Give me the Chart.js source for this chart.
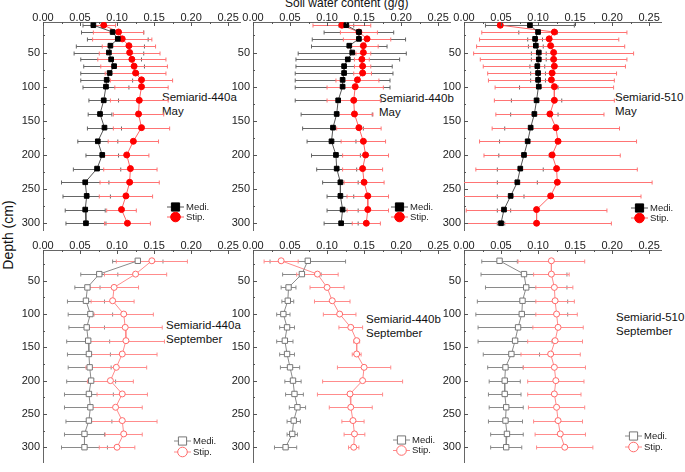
<!DOCTYPE html>
<html>
<head>
<meta charset="utf-8">
<script src="https://cdn.jsdelivr.net/npm/chart.js@4.4.0/dist/chart.umd.min.js"></script>
<style>
  body { margin: 0; width: 685px; height: 472px; background: #fff; position: relative; overflow: hidden;
         font-family: "Liberation Sans", Arial, sans-serif; }
  canvas { position: absolute; }
  .t { position: absolute; color: #111; white-space: nowrap; font-size: 11.5px; line-height: 14px; }
</style>
</head>
<body>
<div class="t" style="left:285px; top:-4px; font-size:12px;">Soil water content (g/g)</div>
<div class="t" style="left:-29px; top:228px; font-size:14px; transform:rotate(-90deg); width:74px; text-align:center;">Depth (cm)</div>
<div class="t" style="left:162px; top:90px;">Semiarid-440a<br>May</div>
<div class="t" style="left:379px; top:91px;">Semiarid-440b<br>May</div>
<div class="t" style="left:615px; top:90px;">Semiarid-510<br>May</div>
<div class="t" style="left:166px; top:318px;">Semiarid-440a<br>September</div>
<div class="t" style="left:366px; top:312px;">Semiarid-440b<br>September</div>
<div class="t" style="left:616px; top:310px;">Semiarid-510<br>September</div>

<canvas id="c1"></canvas><canvas id="c2"></canvas><canvas id="c3"></canvas>
<canvas id="c4"></canvas><canvas id="c5"></canvas><canvas id="c6"></canvas>

<script>
// depths (cm)
const depthsMay = [10, 20, 30, 40, 50, 60, 70, 80, 90, 100, 120, 140, 160, 180, 200, 220, 240, 260, 280, 300];
const depthsSep = [20, 40, 60, 80, 100, 120, 140, 160, 180, 200, 220, 240, 260, 280, 300];

// Semiarid-440a, May
const medi440aMay = [0.068, 0.094, 0.101, 0.091, 0.089, 0.092, 0.096, 0.090, 0.086, 0.085, 0.082, 0.077, 0.083, 0.074, 0.080, 0.073, 0.057, 0.059, 0.057, 0.058];
const medi440aMaySd = [0.014, 0.042, 0.041, 0.046, 0.047, 0.041, 0.041, 0.039, 0.035, 0.031, 0.020, 0.016, 0.023, 0.027, 0.022, 0.032, 0.032, 0.032, 0.027, 0.027];
const stip440aMay = [0.082, 0.102, 0.107, 0.116, 0.117, 0.120, 0.123, 0.125, 0.133, 0.133, 0.130, 0.129, 0.133, 0.122, 0.113, 0.118, 0.117, 0.112, 0.106, 0.114];
const stip440aMaySd = [0.016, 0.034, 0.040, 0.036, 0.041, 0.046, 0.045, 0.041, 0.042, 0.036, 0.039, 0.034, 0.038, 0.034, 0.030, 0.036, 0.040, 0.036, 0.020, 0.031];

// Semiarid-440b, May
const medi440bMay = [0.126, 0.143, 0.143, 0.130, 0.134, 0.128, 0.123, 0.123, 0.121, 0.121, 0.115, 0.113, 0.108, 0.106, 0.112, 0.113, 0.118, 0.118, 0.121, 0.119];
const medi440bMaySd = [0.010, 0.047, 0.063, 0.051, 0.073, 0.070, 0.065, 0.066, 0.064, 0.064, 0.058, 0.048, 0.041, 0.033, 0.033, 0.027, 0.024, 0.018, 0.021, 0.023];
const stip440bMay = [0.120, 0.143, 0.154, 0.149, 0.149, 0.147, 0.148, 0.148, 0.141, 0.138, 0.136, 0.137, 0.143, 0.149, 0.152, 0.148, 0.150, 0.155, 0.155, 0.153];
const stip440bMaySd = [0.039, 0.025, 0.032, 0.020, 0.010, 0.010, 0.011, 0.012, 0.029, 0.038, 0.036, 0.025, 0.030, 0.030, 0.031, 0.027, 0.027, 0.028, 0.028, 0.019];

// Semiarid-510, May
const medi510May = [0.089, 0.100, 0.096, 0.097, 0.101, 0.101, 0.099, 0.100, 0.100, 0.101, 0.098, 0.095, 0.090, 0.086, 0.081, 0.076, 0.072, 0.063, 0.054, 0.050];
const medi510MaySd = [0.060, 0.026, 0.010, 0.010, 0.010, 0.010, 0.010, 0.010, 0.010, 0.026, 0.034, 0.032, 0.035, 0.038, 0.034, 0.031, 0.027, 0.018, 0.009, 0.005];
const stip510May = [0.049, 0.122, 0.115, 0.117, 0.121, 0.121, 0.122, 0.119, 0.118, 0.122, 0.122, 0.116, 0.124, 0.127, 0.119, 0.125, 0.126, 0.117, 0.098, 0.098];
const stip510MaySd = [0.003, 0.098, 0.094, 0.100, 0.108, 0.099, 0.096, 0.087, 0.085, 0.080, 0.081, 0.073, 0.086, 0.106, 0.092, 0.109, 0.128, 0.122, 0.095, 0.101];

// Semiarid-440a, September
const medi440aSep = [0.128, 0.076, 0.060, 0.058, 0.064, 0.059, 0.061, 0.062, 0.063, 0.065, 0.062, 0.064, 0.062, 0.056, 0.056];
const medi440aSepSd = [0.034, 0.025, 0.017, 0.025, 0.030, 0.024, 0.029, 0.029, 0.029, 0.033, 0.033, 0.035, 0.031, 0.027, 0.031];
const stip440aSep = [0.147, 0.125, 0.096, 0.094, 0.109, 0.111, 0.112, 0.107, 0.099, 0.091, 0.107, 0.098, 0.107, 0.109, 0.100];
const stip440aSepSd = [0.048, 0.042, 0.033, 0.029, 0.040, 0.050, 0.052, 0.047, 0.041, 0.031, 0.034, 0.036, 0.047, 0.025, 0.024];

// Semiarid-440b, September
const medi440bSep = [0.074, 0.066, 0.048, 0.047, 0.041, 0.046, 0.043, 0.046, 0.050, 0.054, 0.056, 0.060, 0.055, 0.053, 0.044];
const medi440bSepSd = [0.051, 0.026, 0.010, 0.008, 0.009, 0.010, 0.011, 0.010, 0.013, 0.011, 0.012, 0.011, 0.009, 0.007, 0.015];
const stip440bSep = [0.038, 0.087, 0.100, 0.107, 0.117, 0.132, 0.140, 0.140, 0.150, 0.148, 0.131, 0.132, 0.135, 0.137, 0.136];
const stip440bSepSd = [0.023, 0.028, 0.023, 0.024, 0.022, 0.016, 0.004, 0.006, 0.036, 0.054, 0.044, 0.029, 0.015, 0.014, 0.007];

// Semiarid-510, September
const medi510Sep = [0.048, 0.081, 0.084, 0.079, 0.078, 0.073, 0.069, 0.064, 0.056, 0.055, 0.055, 0.057, 0.056, 0.058, 0.057];
const medi510SepSd = [0.024, 0.058, 0.055, 0.061, 0.062, 0.054, 0.050, 0.038, 0.024, 0.021, 0.022, 0.023, 0.023, 0.022, 0.021];
const stip510Sep = [0.118, 0.118, 0.122, 0.123, 0.125, 0.127, 0.123, 0.117, 0.122, 0.124, 0.122, 0.125, 0.127, 0.130, 0.136];
const stip510SepSd = [0.045, 0.024, 0.025, 0.026, 0.028, 0.034, 0.037, 0.040, 0.042, 0.038, 0.036, 0.038, 0.033, 0.034, 0.038];

const font = { family: 'Liberation Sans', size: 11 };

// horizontal error bars, drawn under the points
const errorBars = {
  id: 'errorBars',
  beforeDatasetsDraw(chart) {
    const { ctx, chartArea: a, scales: { x, y } } = chart;
    ctx.save();
    ctx.beginPath();
    ctx.rect(a.left, a.top, a.width, a.height);
    ctx.clip();
    chart.data.datasets.forEach(ds => {
      ctx.strokeStyle = ds.errorColor;
      ctx.lineWidth = 1;
      ds.data.forEach((p, i) => {
        const sd = ds.errors[i];
        const py = Math.round(y.getPixelForValue(p.y)) + 0.5;
        const x0 = x.getPixelForValue(p.x - sd);
        const x1 = x.getPixelForValue(p.x + sd);
        ctx.beginPath();
        ctx.moveTo(x0, py); ctx.lineTo(x1, py);
        ctx.moveTo(x0, py - 2); ctx.lineTo(x0, py + 2);
        ctx.moveTo(x1, py - 2); ctx.lineTo(x1, py + 2);
        ctx.stroke();
      });
    });
    ctx.restore();
  }
};

// inward major / minor tick marks
const innerTicks = {
  id: 'innerTicks',
  afterDraw(chart) {
    const { ctx, chartArea: a, scales: { x, y } } = chart;
    ctx.save();
    ctx.strokeStyle = '#555';
    ctx.lineWidth = 1;
    ctx.beginPath();
    for (let k = 0; k * 0.025 <= x.max; k++) {
      const px = Math.round(x.getPixelForValue(k * 0.025)) + 0.5;
      ctx.moveTo(px, a.top);
      ctx.lineTo(px, a.top + (k % 2 === 0 ? 4 : 2));
    }
    for (let k = 1; k * 25 <= y.max; k++) {
      if (k * 25 < y.min) continue;
      const py = Math.round(y.getPixelForValue(k * 25)) + 0.5;
      ctx.moveTo(a.left, py);
      ctx.lineTo(a.left + (k % 2 === 0 ? 4 : 2), py);
    }
    ctx.stroke();
    ctx.restore();
  }
};

// small legend inside the plot
const miniLegend = {
  id: 'miniLegend',
  afterDraw(chart, args, opts) {
    const ctx = chart.ctx;
    ctx.save();
    chart.data.datasets.forEach((ds, i) => {
      const yy = opts.y + i * opts.gap;
      ctx.strokeStyle = ds.borderColor;
      ctx.lineWidth = 1;
      ctx.beginPath();
      ctx.moveTo(opts.x, yy); ctx.lineTo(opts.x + 17, yy);
      ctx.stroke();
      ctx.fillStyle = ds.backgroundColor;
      ctx.strokeStyle = ds.pointBorderColor;
      Chart.helpers.drawPoint(ctx, { pointStyle: ds.pointStyle, radius: ds.legendRadius, borderWidth: 1, rotation: 0 }, opts.x + 8.5, yy);
      ctx.fillStyle = '#222';
      ctx.font = '9.5px "Liberation Sans"';
      ctx.textBaseline = 'middle';
      ctx.fillText(ds.label, opts.x + 19, yy);
    });
    ctx.restore();
  }
};

function series(label, depths, vals, sds, month) {
  const medi = label === 'Medi.';
  const open = month === 'Sep';
  const line = medi ? (open ? '#8a8a8a' : '#555') : (open ? '#ff8c8c' : '#ff6464');
  const mark = medi ? (open ? '#777' : '#000') : (open ? '#ff6a6a' : '#ff0000');
  const r = medi ? (open ? 3.8 : 3.3) : (open ? 3 : 3);
  return {
    label: label,
    data: depths.map((d, i) => ({ x: vals[i], y: d })),
    errors: sds,
    errorColor: medi ? (open ? '#8a8a8a' : '#666') : (open ? '#ff8c8c' : '#ff7474'),
    showLine: true,
    borderColor: line,
    borderWidth: 1,
    pointStyle: medi ? 'rect' : 'circle',
    pointRadius: r,
    pointHoverRadius: r,
    legendRadius: medi ? 5.8 : 4.8,
    pointBorderColor: mark,
    pointBackgroundColor: open ? '#fff' : mark,
    backgroundColor: open ? '#fff' : mark,
    pointBorderWidth: 1
  };
}

function panel(id, areaLeft, row, datasets, legend) {
  const canvas = document.getElementById(id);
  const top = row === 0 ? 0 : 228;
  const height = row === 0 ? 240 : 244;
  canvas.width = 265; canvas.height = height;
  canvas.style.left = (areaLeft - 43) + 'px';
  canvas.style.top = top + 'px';
  new Chart(canvas, {
    type: 'scatter',
    data: { datasets: datasets },
    options: {
      responsive: false,
      animation: false,
      layout: { padding: { left: 0, top: 0, right: 25, bottom: row === 0 ? 5 : 0 } },
      plugins: {
        legend: { display: false },
        tooltip: { enabled: false },
        miniLegend: { x: legend[0] - (areaLeft - 43), y: legend[1] - top, gap: legend[2] }
      },
      scales: {
        x: {
          type: 'linear', position: 'top', min: 0, max: 0.266,
          ticks: { stepSize: 0.05, includeBounds: false, autoSkip: false, maxRotation: 0, padding: -3,
                   color: '#222', font: font, callback: v => v.toFixed(2) },
          grid: { display: true, drawOnChartArea: false, drawTicks: false },
          border: { display: true, color: '#666', width: 1 },
          afterFit: s => { s.height = 22; }
        },
        y: {
          type: 'linear', reverse: true,
          min: row === 0 ? 5.3 : 3.8, max: row === 0 ? 310.5 : 322.8,
          ticks: { stepSize: 50, includeBounds: false, autoSkip: false, padding: 3,
                   color: '#222', font: font },
          grid: { display: true, drawOnChartArea: false, drawTicks: false },
          border: { display: true, color: '#666', width: 1 },
          afterFit: s => { s.width = 43; }
        }
      }
    },
    plugins: [errorBars, innerTicks, miniLegend]
  });
}

panel('c1', 43, 0, [series('Medi.', depthsMay, medi440aMay, medi440aMaySd, 'May'),
                    series('Stip.', depthsMay, stip440aMay, stip440aMaySd, 'May')], [167, 207, 10]);
panel('c2', 253, 0, [series('Medi.', depthsMay, medi440bMay, medi440bMaySd, 'May'),
                     series('Stip.', depthsMay, stip440bMay, stip440bMaySd, 'May')], [391, 207, 10]);
panel('c3', 464, 0, [series('Medi.', depthsMay, medi510May, medi510MaySd, 'May'),
                     series('Stip.', depthsMay, stip510May, stip510MaySd, 'May')], [631, 208, 10]);
panel('c4', 43, 1, [series('Medi.', depthsSep, medi440aSep, medi440aSepSd, 'Sep'),
                    series('Stip.', depthsSep, stip440aSep, stip440aSepSd, 'Sep')], [174, 441, 11]);
panel('c5', 253, 1, [series('Medi.', depthsSep, medi440bSep, medi440bSepSd, 'Sep'),
                     series('Stip.', depthsSep, stip440bSep, stip440bSepSd, 'Sep')], [393, 440, 10.5]);
panel('c6', 464, 1, [series('Medi.', depthsSep, medi510Sep, medi510SepSd, 'Sep'),
                     series('Stip.', depthsSep, stip510Sep, stip510SepSd, 'Sep')], [625, 436, 11]);
</script>
</body>
</html>
